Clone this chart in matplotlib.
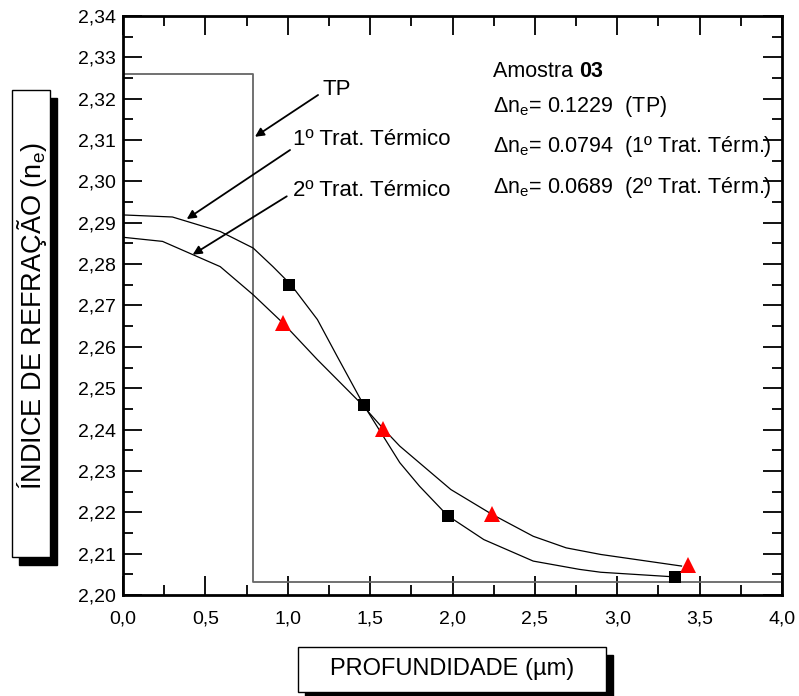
import matplotlib
matplotlib.use('Agg')

import matplotlib.pyplot as plt
from matplotlib.patches import Rectangle
from matplotlib.ticker import MultipleLocator, FuncFormatter

plt.rcParams['font.family'] = ['Liberation Sans', 'DejaVu Sans']
plt.rcParams['mathtext.fontset'] = 'custom'
plt.rcParams['mathtext.rm'] = 'Liberation Sans'

# ========== dados ==========
# perfil degrau (TP)
tp_x = [0.0, 0.79, 0.79, 4.0]
tp_n = [2.3260, 2.3260, 2.2031, 2.2031]

# 1º tratamento térmico: curva e pontos medidos
trat1_x = [0.00, 0.30, 0.59, 0.79, 0.91, 1.02, 1.18, 1.30, 1.46, 1.68, 1.80, 1.97,
           2.19, 2.49, 2.77, 2.90, 3.34]
trat1_n = [2.2919, 2.2914, 2.2879, 2.2839, 2.2794, 2.2750, 2.2666, 2.2577, 2.2460,
           2.2320, 2.2263, 2.2192, 2.2134, 2.2082, 2.2062, 2.2055, 2.2044]
trat1_pts_x = [1.01, 1.46, 1.97, 3.35]
trat1_pts_n = [2.2750, 2.2460, 2.2192, 2.2044]

# 2º tratamento térmico
trat2_x = [0.00, 0.24, 0.59, 0.79, 0.97, 1.18, 1.44, 1.58, 1.68, 1.99, 2.24, 2.49,
           2.69, 2.90, 3.39]
trat2_n = [2.2865, 2.2855, 2.2794, 2.2726, 2.2658, 2.2569, 2.2465, 2.2402, 2.2360,
           2.2255, 2.2195, 2.2142, 2.2114, 2.2098, 2.2070]
trat2_pts_x = [0.97, 1.58, 2.24, 3.43]
trat2_pts_n = [2.2658, 2.2402, 2.2196, 2.2072]

info_lines = [r'$\Delta$n$_\mathregular{e}$= 0.1229  (TP)',
              r'$\Delta$n$_\mathregular{e}$= 0.0794  (1º Trat. Térm.)',
              r'$\Delta$n$_\mathregular{e}$= 0.0689  (2º Trat. Térm.)']

W, H = 799, 696
fig = plt.figure(figsize=(W / 100, H / 100), dpi=100)
ax = fig.add_axes([123 / W, 1 - 595 / H, 659 / W, 579 / H])

ax.plot(tp_x, tp_n, color='#666666', lw=1.3, zorder=2)
ax.plot(trat1_x, trat1_n, color='k', lw=0.9, zorder=3)
ax.plot(trat2_x, trat2_n, color='k', lw=0.9, zorder=3)
ax.plot(trat1_pts_x, trat1_pts_n, 's', color='k', ms=8.5, mew=0, zorder=4)
ax.plot(trat2_pts_x, trat2_pts_n, '^', color='red', ms=12, mew=0, zorder=4)

ax.set_xlim(0, 4.0)
ax.set_ylim(2.20, 2.34)
ax.xaxis.set_major_locator(MultipleLocator(0.5))
ax.xaxis.set_minor_locator(MultipleLocator(0.25))
ax.yaxis.set_major_locator(MultipleLocator(0.01))
ax.yaxis.set_minor_locator(MultipleLocator(0.005))
ax.xaxis.set_major_formatter(FuncFormatter(lambda v, p: f'{v:.1f}'.replace('.', ',')))
ax.yaxis.set_major_formatter(FuncFormatter(lambda v, p: f'{v:.2f}'.replace('.', ',')))
ax.tick_params(which='both', direction='in', top=True, right=True, width=1.3, labelsize=14)
ax.tick_params(which='major', length=14)
ax.tick_params(which='minor', length=7)
ax.tick_params(axis='x', pad=11)
ax.tick_params(axis='y', pad=5)
for s in ax.spines.values():
    s.set_linewidth(2)

# setas e rótulos
arrow = dict(arrowstyle='-|>', color='k', lw=1.3, mutation_scale=13, shrinkA=0, shrinkB=0)
ax.annotate('', xy=(0.801, 2.3108), xytext=(1.184, 2.3209), arrowprops=arrow)
ax.annotate('', xy=(0.387, 2.2909), xytext=(1.014, 2.3076), arrowprops=arrow)
ax.annotate('', xy=(0.423, 2.2823), xytext=(0.994, 2.2964), arrowprops=arrow)
ax.text(1.208, 2.3209, 'TP', fontsize=16)
ax.text(1.032, 2.3088, '1º Trat. Térmico', fontsize=16)
ax.text(1.032, 2.2965, '2º Trat. Térmico', fontsize=16)

ax.text(2.248, 2.3253, 'Amostra ', fontsize=15.5)
ax.annotate('03', xy=(1, 0), xycoords=ax.texts[-1], va='bottom', fontsize=15.5, fontweight='bold')
for i, line in enumerate(info_lines):
    ax.text(2.248, 2.3169 - i * 0.00985, line, fontsize=15.5)

# caixas dos títulos dos eixos (com sombra)
fig.add_artist(Rectangle((19 / W, 1 - 565 / H), 38 / W, 467 / H, transform=fig.transFigure,
                         facecolor='k', edgecolor='k', zorder=1))
fig.add_artist(Rectangle((12 / W, 1 - 557 / H), 38 / W, 467 / H, transform=fig.transFigure,
                         facecolor='white', edgecolor='k', lw=1, zorder=2))
fig.text(32 / W, 1 - 316 / H, 'ÍNDICE DE REFRAÇÃO (n$_\\mathregular{e}$)', rotation=90,
         ha='center', va='center', fontsize=19.5, zorder=3)

fig.add_artist(Rectangle((305 / W, 1 - 700 / H), 308 / W, 45 / H, transform=fig.transFigure,
                         facecolor='k', edgecolor='k', zorder=1))
fig.add_artist(Rectangle((298 / W, 1 - 692 / H), 308 / W, 45 / H, transform=fig.transFigure,
                         facecolor='white', edgecolor='k', lw=1, zorder=2))
fig.text(452 / W, 1 - 669 / H, 'PROFUNDIDADE (µm)', ha='center', va='center', fontsize=17, zorder=3)

fig.savefig('out.png', dpi=100)
